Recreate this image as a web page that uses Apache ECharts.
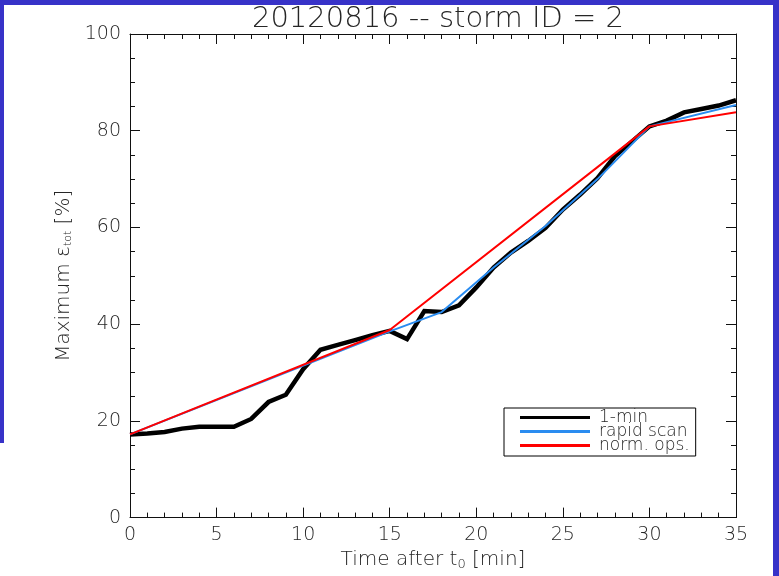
<!DOCTYPE html>
<html>
<head>
<meta charset="utf-8">
<script src="https://cdn.jsdelivr.net/npm/echarts@6/dist/echarts.min.js"></script>
<style>
html,body{margin:0;padding:0;background:#fff;}
#chart{width:779px;height:576px;}
</style>
</head>
<body>
<div id="chart"></div>
<script>
// ---- data ----
const titleText = '20120816 -- storm ID = 2';
const seriesNames = ['1-min', 'rapid scan', 'norm. ops.'];

const oneMinTimes = [0,1,2,3,4,5,6,7,8,9,10,11,12,13,14,15,16,17,18,19,20,21,22,23,24,25,26,27,28,29,30,31,32,33,34,35];
const oneMinValues = [17.2,17.4,17.7,18.4,18.8,18.8,18.8,20.4,23.9,25.4,30.7,34.7,35.7,36.7,37.7,38.6,36.9,42.7,42.5,43.9,47.6,51.7,54.8,57.2,59.9,63.7,66.8,70.2,74.7,77.8,80.9,82.1,83.8,84.5,85.2,86.3];

const rapidTimes = [0,15,18,21,24,27,30,35];
const rapidValues = [17.2,38.5,42.5,51.7,60.3,70.0,80.9,85.3];

const normTimes = [0,15,30,35];
const normValues = [17.2,38.8,80.9,83.8];

const xMin = 0, xMax = 35, xStep = 5;
const yMin = 0, yMax = 100, yStep = 20;

function pairs(xs, ys){ return xs.map((x,i)=>[x, ys[i]]); }

const FONT = 'DejaVu Sans';
const TXT = '#262626';
const AX = '#111';
const FW = 300;

const chart = echarts.init(document.getElementById('chart'), null, {renderer:'canvas'});

function xAxisCfg(pos, labels){
  return {
    type:'value', position:pos, min:xMin, max:xMax, interval:xStep,
    axisLine:{show:true, onZero:false, lineStyle:{color:AX, width:1}},
    axisTick:{show:true, inside:true, length:10, lineStyle:{color:AX}},
    minorTick:{show:true, splitNumber:5, length:5, lineStyle:{color:AX}},
    splitLine:{show:false},
    axisLabel:{show:labels, margin:8, fontFamily:FONT, fontSize:19, fontWeight:FW, color:TXT},
    name: labels ? '{a|Time after t}{s|0}{a| [min]}' : '',
    nameLocation:'middle', nameGap:23,
    nameTextStyle:{rich:{
      a:{fontFamily:FONT, fontSize:20, fontWeight:FW, color:TXT},
      s:{fontFamily:FONT, fontSize:13, fontWeight:FW, color:TXT, padding:[10,0,0,0]}
    }}
  };
}
function yAxisCfg(pos, labels){
  return {
    type:'value', position:pos, min:yMin, max:yMax, interval:yStep,
    axisLine:{show:true, onZero:false, lineStyle:{color:AX, width:1}},
    axisTick:{show:true, inside:true, length:10, lineStyle:{color:AX}},
    minorTick:{show:true, splitNumber:4, length:5, lineStyle:{color:AX}},
    splitLine:{show:false},
    axisLabel:{show:labels, margin:9, fontFamily:FONT, fontSize:19, fontWeight:FW, color:TXT},
    name: labels ? '{a|Maximum ε}{s|tot}{a| [%]}' : '',
    nameLocation:'middle', nameGap:56,
    nameTextStyle:{rich:{
      a:{fontFamily:FONT, fontSize:20, fontWeight:FW, color:TXT},
      s:{fontFamily:FONT, fontSize:11, fontWeight:FW, color:TXT, padding:[10,0,0,0]}
    }}
  };
}

const option = {
  backgroundColor:'#fff',
  animation:false,
  title:{
    text:titleText, left:433, top:0, textAlign:'center',
    textStyle:{fontFamily:FONT, fontSize:29, fontWeight:FW, color:TXT}
  },
  grid:{left:130, right:43, top:34, bottom:57, containLabel:false},
  xAxis:[xAxisCfg('bottom', true), xAxisCfg('top', false)],
  yAxis:[yAxisCfg('left', true), yAxisCfg('right', false)],
  legend:{
    orient:'vertical', left:504, top:408,
    borderColor:'#000', borderWidth:1, borderRadius:0,
    padding:[1,6,2,16], itemGap:-3,
    itemWidth:70, itemHeight:3, icon:'rect',
    textStyle:{fontFamily:FONT, fontSize:17, fontWeight:FW, color:TXT, lineHeight:14, padding:[0,0,0,4]},
    data:[
      {name:seriesNames[0], icon:'rect'},
      {name:seriesNames[1], icon:'rect'},
      {name:seriesNames[2], icon:'rect'}
    ]
  },
  graphic:[
    {type:'rect', shape:{x:0,y:0,width:779,height:5}, style:{fill:'#3732c8'}, silent:true},
    {type:'rect', shape:{x:0,y:0,width:4,height:443}, style:{fill:'#3732c8'}, silent:true},
    {type:'rect', shape:{x:773,y:0,width:6,height:576}, style:{fill:'#3732c8'}, silent:true}
  ],
  series:[
    {name:seriesNames[0], type:'line', data:pairs(oneMinTimes, oneMinValues),
     showSymbol:false, symbol:'none', color:'#000',
     lineStyle:{color:'#000', width:4.5, join:'miter'}, z:2},
    {name:seriesNames[1], type:'line', data:pairs(rapidTimes, rapidValues),
     showSymbol:false, symbol:'none', color:'#2a8cf0',
     lineStyle:{color:'#2a8cf0', width:2}, z:3},
    {name:seriesNames[2], type:'line', data:pairs(normTimes, normValues),
     showSymbol:false, symbol:'none', color:'#ff0000',
     lineStyle:{color:'#ff0000', width:2}, z:4}
  ]
};
chart.setOption(option);
</script>
</body>
</html>
